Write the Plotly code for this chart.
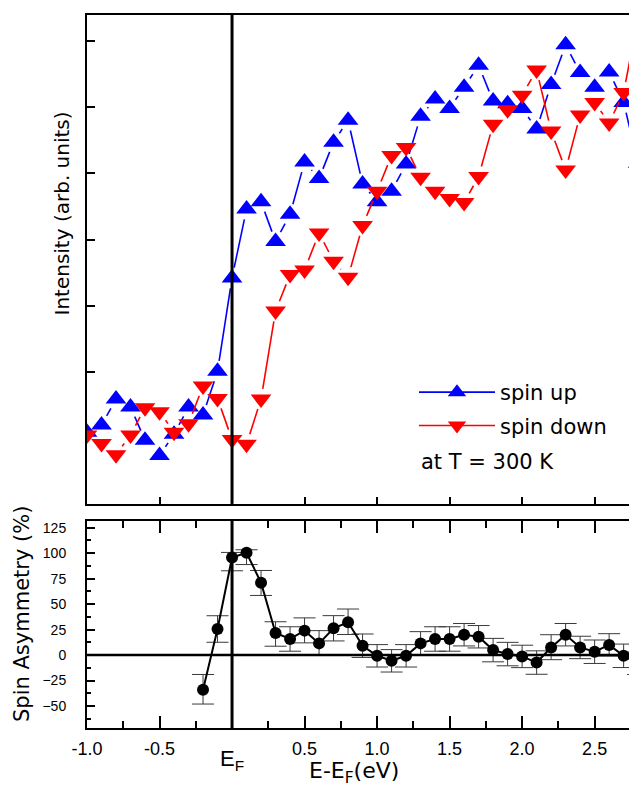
import math
import plotly.graph_objects as go

# ---------------- data ----------------
energy = [-1.0, -0.9, -0.8, -0.7, -0.6, -0.5, -0.4, -0.3, -0.2, -0.1,
          0.0, 0.1, 0.2, 0.3, 0.4, 0.5, 0.6, 0.7, 0.8, 0.9,
          1.0, 1.1, 1.2, 1.3, 1.4, 1.5, 1.6, 1.7, 1.8, 1.9,
          2.0, 2.1, 2.2, 2.3, 2.4, 2.5, 2.6, 2.7, 2.8]

spin_up = [0.09, 0.20, 0.59, 0.47, -0.03, -0.26, 0.06, 0.47, 0.35, 1.01,
           2.42, 3.46, 3.57, 2.97, 3.38, 4.17, 3.92, 4.47, 4.80, 3.84,
           3.57, 3.73, 4.14, 4.86, 5.12, 4.98, 5.30, 5.63, 5.09, 5.05,
           4.98, 4.67, 5.34, 5.94, 5.52, 5.30, 5.53, 5.07, 4.15]

spin_down = [0.05, -0.08, -0.25, 0.05, 0.46, 0.40, 0.09, 0.22, 0.79, 0.60,
             -0.02, -0.09, 0.59, 1.92, 2.47, 2.54, 3.10, 2.67, 2.43, 3.21,
             3.73, 4.27, 4.39, 3.94, 3.73, 3.62, 3.56, 3.95, 4.74, 4.96,
             5.18, 5.56, 4.64, 4.05, 4.88, 5.07, 4.76, 5.22, 6.35]

asym_energy = [-0.2, -0.1, 0.0, 0.1, 0.2, 0.3, 0.4, 0.5, 0.6, 0.7,
               0.8, 0.9, 1.0, 1.1, 1.2, 1.3, 1.4, 1.5, 1.6, 1.7,
               1.8, 1.9, 2.0, 2.1, 2.2, 2.3, 2.4, 2.5, 2.6, 2.7, 2.8]
asymmetry = [-34, 25.6, 95.7, 100.3, 71, 21.7, 15.8, 24, 11.5, 26.3,
             32.2, 9.2, -0.7, -5.6, -0.7, 11.5, 15.8, 15.8, 20, 18,
             4.9, 1, -1.3, -7.3, 7.5, 20, 7.5, 3.3, 10, -0.7, -8]
err_plus = [15, 13, 5, 3, 12, 11, 12, 12.5, 12.5, 12.4,
            13, 11.5, 11, 11, 11, 11.5, 12, 12, 11, 11,
            11.5, 11.5, 11, 11.5, 12.5, 11, 11, 11.5, 11, 11.5, 11]
err_minus = [14, 13, 13, 11.5, 12.5, 13, 12, 12, 11.5, 12.4,
             12, 11.5, 11, 11, 11, 11, 12, 12, 11, 11,
             11.5, 11.5, 11, 11.5, 12, 11, 11, 11.5, 11, 11.5, 11]

x_major = [-1.0, -0.5, 0.0, 0.5, 1.0, 1.5, 2.0, 2.5]
x_labeled = [-1.0, -0.5, 0.5, 1.0, 1.5, 2.0, 2.5]
x_labeled_text = ["-1.0", "-0.5", "0.5", "1.0", "1.5", "2.0", "2.5"]
x_minor = [-0.75, -0.25, 0.25, 0.75, 1.25, 1.75, 2.25]
asym_ticks = [-50, -25, 0, 25, 50, 75, 100, 125]
asym_minor = [-62.5, -37.5, -12.5, 12.5, 37.5, 62.5, 87.5, 112.5]
int_ticks = [1, 2, 3, 4, 5, 6]

# ---------------- layout geometry ----------------
W, H = 629, 789
ML, MR, MT, MB = 87, 0, 15, 61
X_RANGE = [-1.0, 2.737]
Y1_RANGE = [-0.99, 6.39]
Y2_RANGE = [-71.5, 132]
PW = W - ML - MR
PH = H - MT - MB
TOP_DOMAIN = [0.3145, 1.0]
BOT_DOMAIN = [0.0, 0.291]


def py2paper(py):
    return (MT + PH - py) / PH


def px2paper(px):
    return (px - ML) / PW


# pixels per data unit in the top panel (used to leave a gap around symbols)
sx = PW / (X_RANGE[1] - X_RANGE[0])
sy = PH * (TOP_DOMAIN[1] - TOP_DOMAIN[0]) / (Y1_RANGE[1] - Y1_RANGE[0])


def gapped(xs, ys, gap=10.5):
    ox, oy = [], []
    for i in range(len(xs) - 1):
        dx, dy = xs[i + 1] - xs[i], ys[i + 1] - ys[i]
        L = math.hypot(dx * sx, dy * sy)
        if L <= 2 * gap:
            continue
        t = gap / L
        ox += [xs[i] + t * dx, xs[i + 1] - t * dx, None]
        oy += [ys[i] + t * dy, ys[i + 1] - t * dy, None]
    return ox, oy


BLUE, RED = "#0000FF", "#FF0000"
fig = go.Figure()

for ys, col, sym in [(spin_up, BLUE, "triangle-up"),
                     (spin_down, RED, "triangle-down")]:
    gx, gy = gapped(energy, ys)
    fig.add_trace(go.Scatter(x=gx, y=gy, mode="lines", line=dict(color=col, width=1.6),
                             showlegend=False, hoverinfo="skip", xaxis="x", yaxis="y"))
    fig.add_trace(go.Scatter(x=energy, y=ys, mode="markers",
                             marker=dict(symbol=sym, size=18, color=col, line=dict(width=0)),
                             showlegend=False, xaxis="x", yaxis="y"))

for col, sym, name in [(BLUE, "triangle-up", "spin up"), (RED, "triangle-down", "spin down")]:
    fig.add_trace(go.Scatter(x=[None], y=[None], mode="lines+markers", name=name,
                             legendgroup=name,
                             line=dict(color=col, width=1.6),
                             marker=dict(symbol=sym, size=18, color=col),
                             xaxis="x", yaxis="y"))

fig.add_trace(go.Scatter(
    x=asym_energy, y=asymmetry, mode="lines+markers",
    line=dict(color="black", width=2),
    marker=dict(symbol="circle", size=12, color="black"),
    error_y=dict(type="data", array=err_plus, arrayminus=err_minus, symmetric=False,
                 color="#3a3a3a", thickness=1, width=11),
    showlegend=False, xaxis="x2", yaxis="y2"))

axis_common = dict(showline=True, linecolor="black", linewidth=2, showgrid=False,
                   zeroline=False, ticks="inside", tickcolor="black", automargin=False)

fig.update_layout(
    width=W, height=H,
    margin=dict(l=ML, r=MR, t=MT, b=MB),
    plot_bgcolor="white", paper_bgcolor="white",
    font=dict(family="Liberation Sans, Arial, sans-serif", color="black"),
    xaxis=dict(domain=[0, 1], range=X_RANGE, anchor="y", mirror=True,
               tickmode="array", tickvals=x_major, ticklen=7, tickwidth=1.5,
               showticklabels=False, **axis_common),
    yaxis=dict(domain=TOP_DOMAIN, range=Y1_RANGE, anchor="x",
               tickmode="array", tickvals=int_ticks, ticklen=8, tickwidth=1.5,
               showticklabels=False, **axis_common),
    xaxis2=dict(domain=[0, 1], range=X_RANGE, anchor="y2", mirror="ticks",
                tickmode="array", tickvals=x_labeled, ticktext=x_labeled_text,
                ticklen=12, tickwidth=1.5, tickfont=dict(size=18),
                ticklabelstandoff=3,
                minor=dict(tickmode="array", tickvals=x_minor, ticklen=7,
                           tickwidth=1.5, ticks="inside", tickcolor="black"),
                **axis_common),
    yaxis2=dict(domain=BOT_DOMAIN, range=Y2_RANGE, anchor="x2",
                tickmode="array", tickvals=asym_ticks, ticklen=8, tickwidth=1.5,
                tickfont=dict(size=14), ticklabelstandoff=16,
                minor=dict(tickmode="array", tickvals=asym_minor, ticklen=4,
                           tickwidth=1.5, ticks="inside", tickcolor="black"),
                **axis_common),
    legend=dict(x=px2paper(414), y=py2paper(372), xanchor="left", yanchor="top",
                bgcolor="rgba(0,0,0,0)", font=dict(family="DejaVu Sans", size=21),
                traceorder="grouped", tracegroupgap=3, itemwidth=76),
    shapes=[
        dict(type="line", xref="x", yref="y domain", x0=0, x1=0, y0=0, y1=1,
             line=dict(color="black", width=3)),
        dict(type="line", xref="x2", yref="y2 domain", x0=0, x1=0, y0=0, y1=1,
             line=dict(color="black", width=3)),
        dict(type="line", xref="x2 domain", yref="y2", x0=0, x1=1, y0=0, y1=0,
             line=dict(color="black", width=2.5)),
    ],
    annotations=[
        dict(text="Intensity (arb. units)", xref="paper", yref="paper",
             x=px2paper(62), y=py2paper(213.5), textangle=-90,
             xanchor="center", yanchor="middle", showarrow=False,
             font=dict(family="DejaVu Sans", size=20)),
        dict(text="Spin Asymmetry (%)", xref="paper", yref="paper",
             x=px2paper(22), y=py2paper(614), textangle=-90,
             xanchor="center", yanchor="middle", showarrow=False,
             font=dict(family="DejaVu Sans", size=21)),
        dict(text="E-E<sub>F</sub>(eV)", xref="paper", yref="paper",
             x=px2paper(354), y=py2paper(773),
             xanchor="center", yanchor="middle", showarrow=False,
             font=dict(family="DejaVu Sans", size=22)),
        dict(text="at T = 300 K", xref="paper", yref="paper",
             x=px2paper(419), y=py2paper(462),
             xanchor="left", yanchor="middle", showarrow=False,
             font=dict(family="DejaVu Sans", size=21)),
        dict(text="E<sub>F</sub>", xref="x2", yref="paper",
             x=0, y=py2paper(760),
             xanchor="center", yanchor="middle", showarrow=False,
             font=dict(family="Liberation Sans, Arial", size=22)),
    ],
)

fig.write_html("out.html")
